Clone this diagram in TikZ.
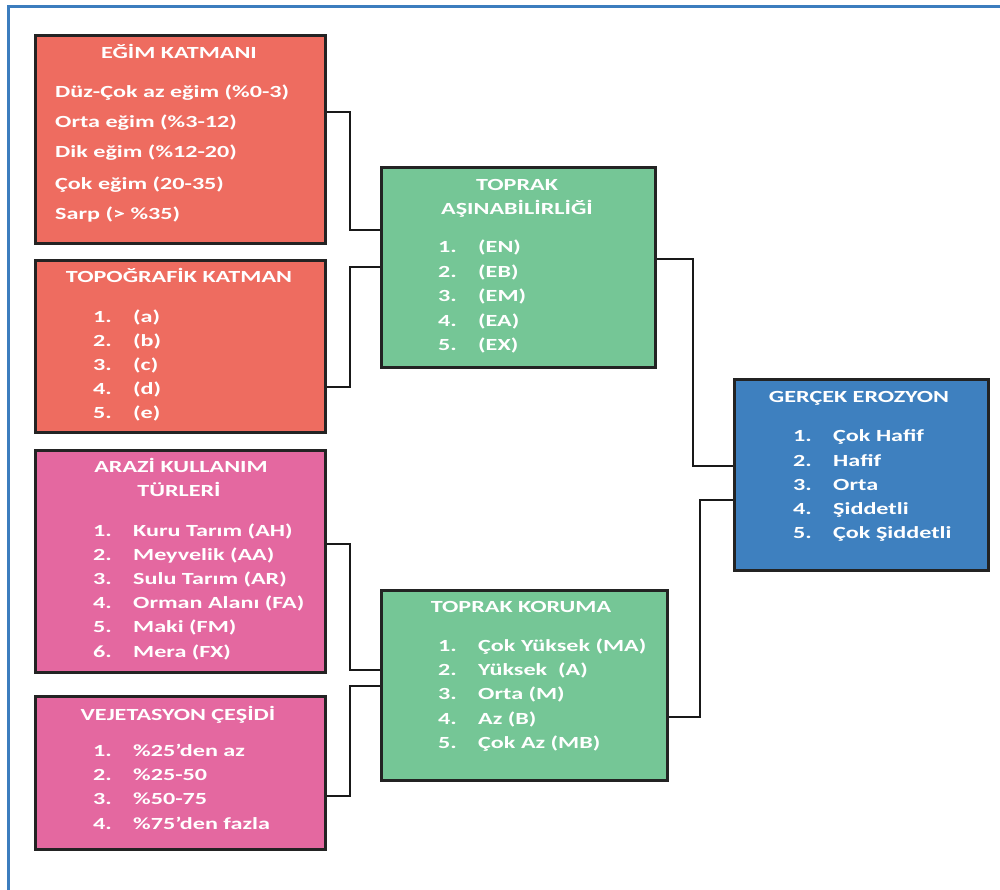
\documentclass[tikz,border=0pt]{standalone}
\usepackage{fontspec}
\setmainfont{Carlito}[FakeStretch=1.42]
\definecolor{cred}{RGB}{238,108,96}
\definecolor{cpink}{RGB}{228,104,160}
\definecolor{cgreen}{RGB}{117,198,150}
\definecolor{cblue}{RGB}{62,128,191}
\definecolor{cframe}{RGB}{60,125,190}
\definecolor{cborder}{RGB}{35,35,35}
\tikzset{
  box/.style={draw=cborder, line width=2.5pt, rectangle, anchor=north west, inner sep=0pt},
  txt/.style={text=white, font=\fontsize{17}{20}\selectfont\bfseries, inner sep=0pt, text height=11pt, text depth=3pt},
  item/.style={txt, anchor=west},
  ttl/.style={txt, anchor=center},
  conn/.style={draw=black!90, line width=2pt},
}
\newcommand{\nm}[1]{\makebox[40pt][l]{#1}}
\begin{document}
\begin{tikzpicture}[x=1pt,y=-1pt]
\useasboundingbox (0,0) rectangle (1000,889);
% frame
\begin{scope}
\clip (0,0) rectangle (1000,889);
\draw[cframe, line width=3pt] (8,6) rectangle (1020,910);
\end{scope}
% boxes
\node[box, fill=cred, minimum width=290pt, minimum height=208pt] (egim) at (34,34) {};
\node[box, fill=cred, minimum width=290pt, minimum height=172pt] (topo) at (34,259) {};
\node[box, fill=cpink, minimum width=290pt, minimum height=222pt] (arazi) at (34,449) {};
\node[box, fill=cpink, minimum width=290pt, minimum height=153pt] (vej) at (34,695) {};
\node[box, fill=cgreen, minimum width=274pt, minimum height=200pt] (asin) at (380,166) {};
\node[box, fill=cgreen, minimum width=286pt, minimum height=190pt] (koruma) at (380,589) {};
\node[box, fill=cblue, minimum width=254pt, minimum height=191pt] (gercek) at (733,378) {};
% EGIM text
\node[ttl] (egimT) at (179,54) {EĞİM KATMANI};
\node[item] (egim1) at (55,93) {Düz-Çok az eğim (\%0-3)};
\node[item] (egim2) at (55,123) {Orta eğim (\%3-12)};
\node[item] (egim3) at (55,153) {Dik eğim (\%12-20)};
\node[item] (egim4) at (55,185) {Çok eğim (20-35)};
\node[item] (egim5) at (55,215) {Sarp (> \%35)};
% TOPO text
\node[ttl] (topoT) at (179,278) {TOPOĞRAFİK KATMAN};
\node[item] (topo1) at (93,318) {\nm{1.}(a)};
\node[item] (topo2) at (93,342) {\nm{2.}(b)};
\node[item] (topo3) at (93,366) {\nm{3.}(c)};
\node[item] (topo4) at (93,390) {\nm{4.}(d)};
\node[item] (topo5) at (93,414) {\nm{5.}(e)};
% ARAZI text
\node[ttl] (araziT1) at (181,468) {ARAZİ KULLANIM};
\node[ttl] (araziT2) at (179,492) {TÜRLERİ};
\node[item] (arazi1) at (93,532) {\nm{1.}Kuru Tarım (AH)};
\node[item] (arazi2) at (93,556) {\nm{2.}Meyvelik (AA)};
\node[item] (arazi3) at (93,580) {\nm{3.}Sulu Tarım (AR)};
\node[item] (arazi4) at (93,604) {\nm{4.}Orman Alanı (FA)};
\node[item] (arazi5) at (93,628) {\nm{5.}Maki (FM)};
\node[item] (arazi6) at (93,653) {\nm{6.}Mera (FX)};
% VEJ text
\node[ttl] (vejT) at (178,716) {VEJETASYON ÇEŞİDİ};
\node[item] (vej1) at (93,752) {\nm{1.}\%25’den az};
\node[item] (vej2) at (93,776) {\nm{2.}\%25-50};
\node[item] (vej3) at (93,800) {\nm{3.}\%50-75};
\node[item] (vej4) at (93,825) {\nm{4.}\%75’den fazla};
% ASIN text
\node[ttl] (asinT1) at (517,186) {TOPRAK};
\node[ttl] (asinT2) at (517,210) {AŞINABİLİRLİĞİ};
\node[item] (asin1) at (438,248) {\nm{1.}(EN)};
\node[item] (asin2) at (438,273) {\nm{2.}(EB)};
\node[item] (asin3) at (438,297) {\nm{3.}(EM)};
\node[item] (asin4) at (438,322) {\nm{4.}(EA)};
\node[item] (asin5) at (438,346) {\nm{5.}(EX)};
% KORUMA text
\node[ttl] (korumaT) at (521,608) {TOPRAK KORUMA};
\node[item] (koruma1) at (438,647) {\nm{1.}Çok Yüksek (MA)};
\node[item] (koruma2) at (438,671) {\nm{2.}Yüksek~ (A)};
\node[item] (koruma3) at (438,695) {\nm{3.}Orta (M)};
\node[item] (koruma4) at (438,720) {\nm{4.}Az (B)};
\node[item] (koruma5) at (438,744) {\nm{5.}Çok Az (MB)};
% GERCEK text
\node[ttl] (gercekT) at (859,398) {GERÇEK EROZYON};
\node[item] (gercek1) at (793,437) {\nm{1.}Çok Hafif};
\node[item] (gercek2) at (793,462) {\nm{2.}Hafif};
\node[item] (gercek3) at (793,486) {\nm{3.}Orta};
\node[item] (gercek4) at (793,510) {\nm{4.}Şiddetli};
\node[item] (gercek5) at (793,534) {\nm{5.}Çok Şiddetli};
% connector joints
\coordinate (j1a) at (350,112); \coordinate (j1b) at (350,230);
\coordinate (j2a) at (350,387); \coordinate (j2b) at (350,267);
\coordinate (j3a) at (350,544); \coordinate (j3b) at (350,670);
\coordinate (j4a) at (350,796); \coordinate (j4b) at (350,686);
\coordinate (j5a) at (693,259); \coordinate (j5b) at (693,466);
\coordinate (j6a) at (700,717); \coordinate (j6b) at (700,500);
% connectors
\draw[conn] (egim.east |- j1a) -- (j1a) -- (j1b) -- (asin.west |- j1b);
\draw[conn] (topo.east |- j2a) -- (j2a) -- (j2b) -- (asin.west |- j2b);
\draw[conn] (arazi.east |- j3a) -- (j3a) -- (j3b) -- (koruma.west |- j3b);
\draw[conn] (vej.east |- j4a) -- (j4a) -- (j4b) -- (koruma.west |- j4b);
\draw[conn] (asin.east |- j5a) -- (j5a) -- (j5b) -- (gercek.west |- j5b);
\draw[conn] (koruma.east |- j6a) -- (j6a) -- (j6b) -- (gercek.west |- j6b);
\end{tikzpicture}
\end{document}
